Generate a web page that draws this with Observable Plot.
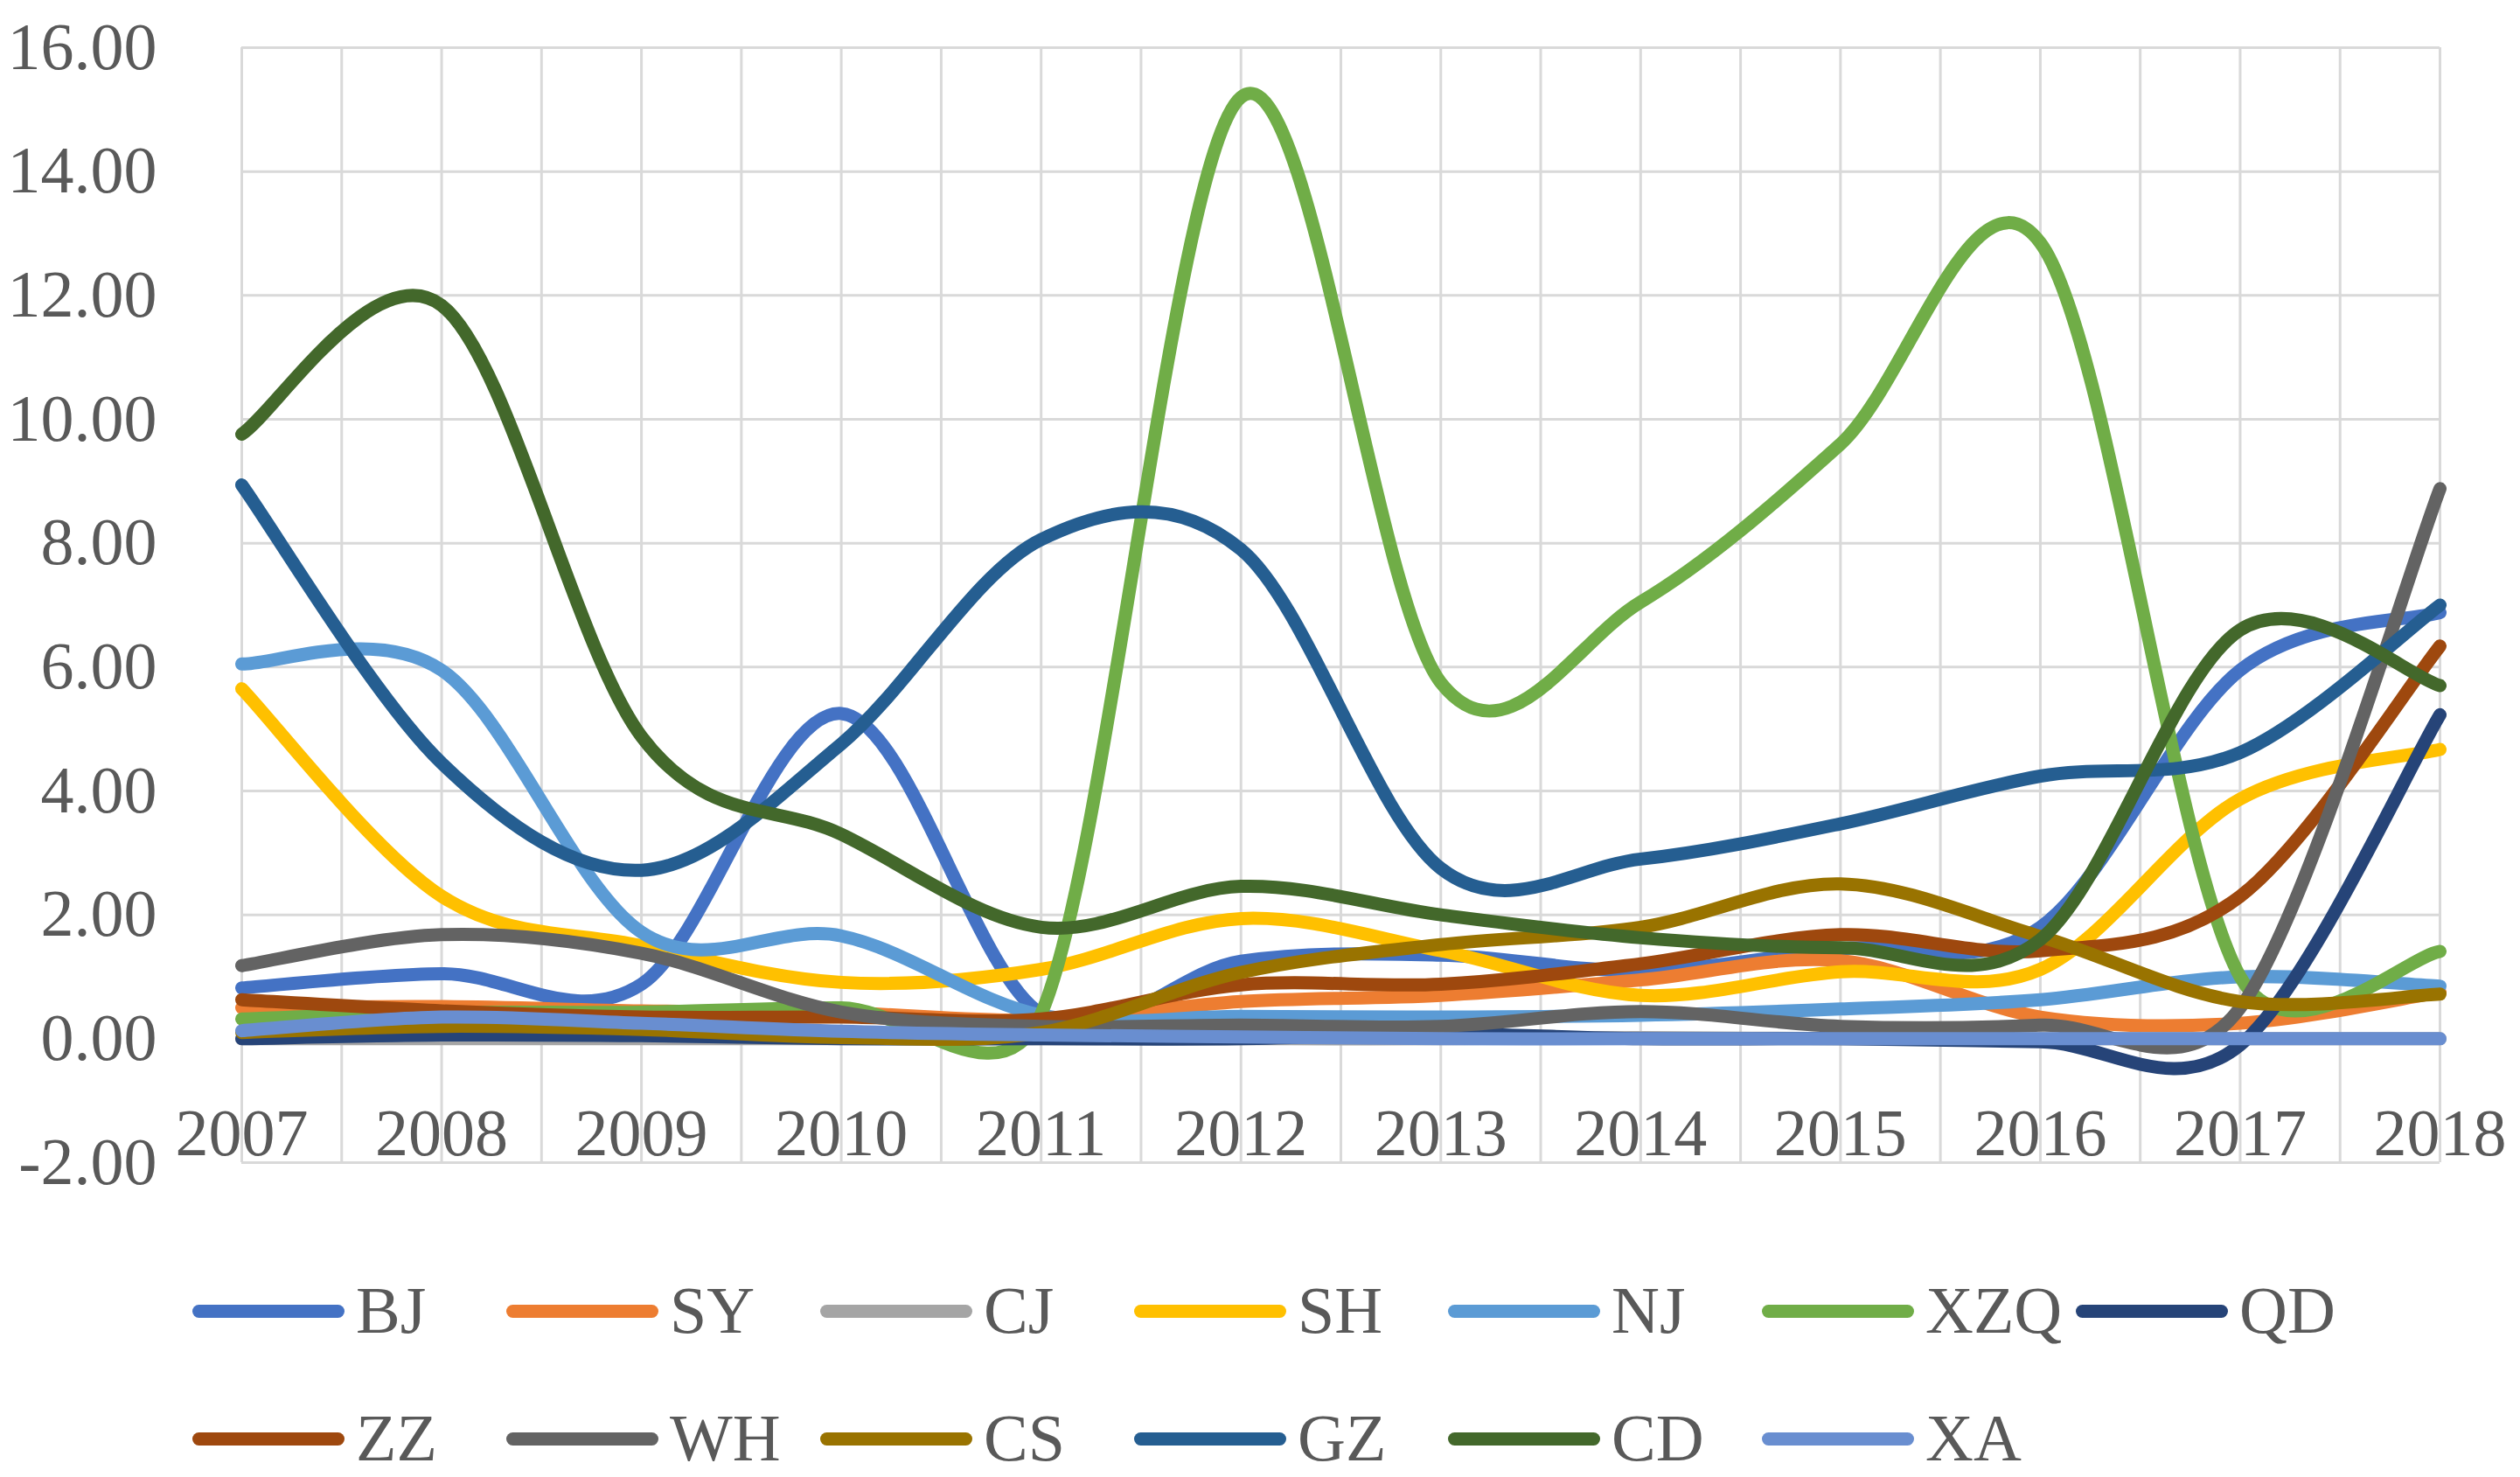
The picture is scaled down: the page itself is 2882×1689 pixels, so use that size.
<!DOCTYPE html>
<html>
<head>
<meta charset="utf-8">
<script src="https://cdn.jsdelivr.net/npm/d3@7"></script>
<script src="https://cdn.jsdelivr.net/npm/@observablehq/plot@0.6"></script>
<style>
  html, body { margin: 0; padding: 0; background: #ffffff; }
  #wrap { width: 2882px; height: 1689px; position: relative; background: #ffffff; overflow: hidden; }
  #legend { position: relative; width: 2882px; height: 329px; font-family: "Liberation Serif", serif; color: #595959; }
  .sw { position: absolute; height: 15px; width: 174px; border-radius: 8px; }
  .lt { position: absolute; font-size: 76px; line-height: 60px; white-space: nowrap; }
</style>
</head>
<body>
<div id="wrap">
  <div id="chart"></div>
  <div id="legend"></div>
</div>
<script>
// ---- data ----
const years = [2007, 2008, 2009, 2010, 2011, 2012, 2013, 2014, 2015, 2016, 2017, 2018];
const yTicks = [-2, 0, 2, 4, 6, 8, 10, 12, 14, 16];
const seriesNames = ["BJ", "SY", "CJ", "SH", "NJ", "XZQ", "QD", "ZZ", "WH", "CS", "GZ", "CD", "XA"];
const seriesColors = ["#4472C4", "#ED7D31", "#A5A5A5", "#FFC000", "#5B9BD5", "#70AD47", "#264478",
                      "#9E480E", "#636363", "#997300", "#255E91", "#43682B", "#698ED0"];

const BJ  = [0.82, 1.05, 0.88, 5.25, 0.40, 1.25, 1.35, 1.10, 1.45, 1.80, 5.95, 6.88];
const SY  = [0.50, 0.52, 0.45, 0.42, 0.30, 0.60, 0.70, 0.95, 1.26, 0.35, 0.25, 0.75];
const CJ  = [0.00, 0.00, 0.00, 0.00, 0.00, 0.00, 0.00, 0.02, 0.00, 0.00, 0.00, 0.00];
const SH  = [5.65, 2.30, 1.50, 0.91, 1.12, 1.94, 1.42, 0.70, 1.08, 1.12, 3.87, 4.67];
const NJ  = [6.05, 5.95, 1.72, 1.66, 0.38, 0.36, 0.35, 0.38, 0.48, 0.63, 1.00, 0.85];
const XZQ = [0.32, 0.42, 0.43, 0.50, 0.40, 15.20, 5.75, 7.05, 9.60, 12.85, 1.00, 1.41];
const QD  = [0.00, 0.06, 0.05, 0.00, 0.00, 0.00, 0.08, 0.00, 0.00, -0.05, -0.10, 5.23];
const ZZ  = [0.63, 0.45, 0.35, 0.35, 0.32, 0.87, 0.88, 1.21, 1.68, 1.42, 2.30, 6.34];
const WH  = [1.18, 1.68, 1.38, 0.43, 0.20, 0.22, 0.20, 0.44, 0.20, 0.22, 0.50, 8.88];
const CS  = [0.10, 0.20, 0.15, 0.02, 0.10, 1.07, 1.52, 1.80, 2.50, 1.65, 0.60, 0.72];
const GZ  = [8.94, 4.45, 2.72, 4.76, 8.06, 7.90, 2.75, 2.90, 3.47, 4.24, 4.62, 7.00];
const CD  = [9.76, 11.84, 4.88, 3.30, 1.80, 2.46, 2.00, 1.63, 1.47, 1.60, 6.60, 5.70];
const XA  = [0.13, 0.35, 0.25, 0.12, 0.06, 0.03, 0.00, 0.00, 0.00, 0.00, 0.00, 0.00];

const seriesValues = [BJ, SY, CJ, SH, NJ, XZQ, QD, ZZ, WH, CS, GZ, CD, XA];

// long table
const table = [];
seriesNames.forEach((name, i) => {
  years.forEach((yr, j) => table.push({series: name, year: yr, value: seriesValues[i][j]}));
});

// half-year vertical gridlines
const halfYears = d3.range(0, 23).map(k => years[0] + k / 2);

const gridColor = "#D9D9D9";
const textColor = "#595959";

// Spreadsheet-style smoothed line: Bezier with 1/6 tangent arms, each arm capped at half the segment.
function SmoothCurve(context) { this._context = context; }
SmoothCurve.prototype = {
  areaStart() { this._line = 0; },
  areaEnd() { this._line = NaN; },
  lineStart() { this._pts = []; },
  point(x, y) { this._pts.push([+x, +y]); },
  lineEnd() {
    const p = this._pts, c = this._context, n = p.length;
    if (n > 0) {
      if (this._line) c.lineTo(p[0][0], p[0][1]); else c.moveTo(p[0][0], p[0][1]);
      for (let i = 0; i < n - 1; i++) {
        const P0 = p[i - 1] || p[i], P1 = p[i], P2 = p[i + 1], P3 = p[i + 2] || p[i + 1];
        const d12 = Math.hypot(P2[0] - P1[0], P2[1] - P1[1]);
        let ax = (P2[0] - P0[0]) / 6, ay = (P2[1] - P0[1]) / 6;
        let la = Math.hypot(ax, ay);
        if (la > d12 / 2 && la > 0) { const s = (d12 / 2) / la; ax *= s; ay *= s; }
        let bx = (P3[0] - P1[0]) / 6, by = (P3[1] - P1[1]) / 6;
        let lb = Math.hypot(bx, by);
        if (lb > d12 / 2 && lb > 0) { const s = (d12 / 2) / lb; bx *= s; by *= s; }
        c.bezierCurveTo(P1[0] + ax, P1[1] + ay, P2[0] - bx, P2[1] - by, P2[0], P2[1]);
      }
    }
    if (this._line || (this._line !== 0 && n === 1)) c.closePath();
    this._line = 1 - this._line;
  }
};
const smoothCurve = context => new SmoothCurve(context);

const lineMarks = seriesNames.map((name, i) =>
  Plot.line(table.filter(d => d.series === name), {
    x: "year", y: "value",
    stroke: seriesColors[i], strokeWidth: 15,
    strokeLinecap: "round", strokeLinejoin: "round",
    curve: smoothCurve
  })
);

const chart = Plot.plot({
  width: 2882,
  height: 1360,
  marginLeft: 276,
  marginRight: 92,
  marginTop: 54,
  marginBottom: 31,
  style: {fontFamily: "'Liberation Serif', serif", fontSize: "76px", color: textColor, background: "#ffffff", overflow: "visible"},
  x: {domain: [years[0], years[years.length - 1]], label: null},
  y: {domain: [yTicks[0], yTicks[yTicks.length - 1]], label: null},
  marks: [
    Plot.gridX(halfYears, {stroke: gridColor, strokeOpacity: 1, strokeWidth: 3}),
    Plot.gridY(yTicks, {stroke: gridColor, strokeOpacity: 1, strokeWidth: 3}),
    Plot.axisY(yTicks, {tickSize: 0, tickPadding: 97, tickFormat: d => d.toFixed(2), fontSize: 76, fill: textColor, label: null}),
    Plot.axisX(years, {tickSize: 0, tickPadding: 0, dy: -62, tickFormat: d => String(d), fontSize: 76, fill: textColor, label: null}),
    ...lineMarks
  ]
});
document.getElementById("chart").append(chart);

// legend
const legendRows = [["BJ", "SY", "CJ", "SH", "NJ", "XZQ", "QD"], ["ZZ", "WH", "CS", "GZ", "CD", "XA"]];
const legend = document.getElementById("legend");
const rowCenters = [139, 285];
legendRows.forEach((row, r) => {
  row.forEach((name, k) => {
    const color = seriesColors[seriesNames.indexOf(name)];
    const left = 220 + 359 * k;
    const sw = document.createElement("div");
    sw.className = "sw";
    sw.style.left = left + "px";
    sw.style.top = (rowCenters[r] - 7.5) + "px";
    sw.style.background = color;
    legend.appendChild(sw);
    const t = document.createElement("div");
    t.className = "lt";
    t.textContent = name;
    t.style.left = (left + 187) + "px";
    t.style.top = (rowCenters[r] - 31) + "px";
    legend.appendChild(t);
  });
});
</script>
</body>
</html>
